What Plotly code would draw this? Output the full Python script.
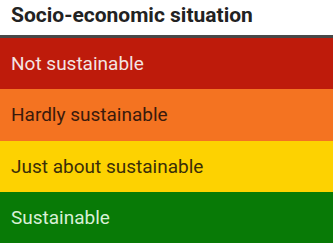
import plotly.graph_objects as go

title = "Socio-economic situation"
categories = ["Not sustainable", "Hardly sustainable", "Just about sustainable", "Sustainable"]
values = [1, 1, 1, 1]
bar_colors = ["#BE1B0B", "#F47321", "#FDD201", "#087A06"]
text_colors = ["#F3E4E2", "#3A1A0C", "#3A2E08", "#D8F0D6"]

fig = go.Figure(go.Bar(
    x=values, y=categories, orientation="h",
    marker=dict(color=bar_colors, line=dict(width=0)),
    hoverinfo="skip",
))

for cat, col in zip(categories, text_colors):
    fig.add_annotation(x=0, xref="paper", y=cat, yref="y", text=cat,
                       xanchor="left", yanchor="middle", xshift=9, showarrow=False,
                       font=dict(family="Roboto", size=19, color=col))

fig.add_annotation(x=0, xref="paper", y=1, yref="paper", text="<b>" + title + "</b>",
                   xanchor="left", yanchor="middle", xshift=9, yshift=23, showarrow=False,
                   font=dict(family="Roboto", size=21, color="#222222"))

fig.add_shape(type="line", xref="paper", yref="paper", x0=0, x1=1,
              ysizemode="pixel", yanchor=1, y0=1.5, y1=1.5,
              line=dict(color="#484848", width=3))

fig.update_layout(
    width=333, height=243,
    margin=dict(l=0, r=0, t=38, b=0),
    paper_bgcolor="white", plot_bgcolor="white",
    bargap=0, showlegend=False,
    xaxis=dict(visible=False, range=[0, 1], fixedrange=True),
    yaxis=dict(visible=False, autorange="reversed", fixedrange=True),
)

fig.write_html("out.html", config={"displayModeBar": False},
               post_script="document.body.style.margin='0';")
